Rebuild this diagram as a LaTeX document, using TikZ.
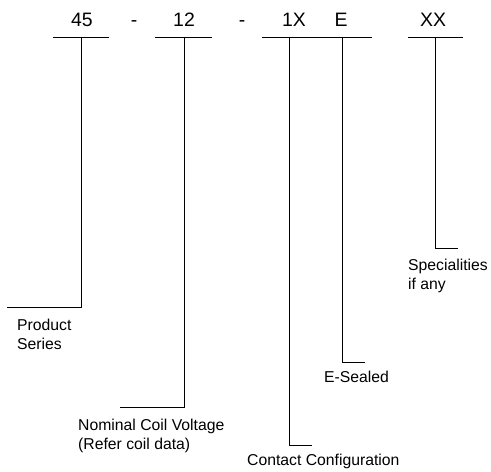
\documentclass[tikz,border=0pt]{standalone}
\usepackage{fontspec}
\setmainfont{Liberation Sans}
\begin{document}
\begin{tikzpicture}[x=1bp,y=-1bp,
  code/.style={anchor=base,inner sep=0pt,font=\fontsize{19.5}{21}\selectfont},
  lbl/.style={anchor=base west,inner sep=0pt,align=left,font=\fontsize{15.8}{18.3}\selectfont},
  ln/.style={line width=0.9bp,black}]
\useasboundingbox (0,0) rectangle (491,472);
% code characters
\node[code] (c45) at (82,27) {45};
\node[code] (d1) at (134,27) {-};
\node[code] (c12) at (184,27) {12};
\node[code] (d2) at (242,27) {-};
\node[code] (c1x) at (294,27) {1X};
\node[code] (ce) at (341,27) {E};
\node[code] (cxx) at (433,27) {XX};
% underline bars
\coordinate (b1l) at (53,37); \coordinate (b1r) at (109,37);
\coordinate (b2l) at (155,37); \coordinate (b2r) at (212,37);
\coordinate (b3l) at (262,37); \coordinate (b3r) at (372,37);
\coordinate (b5l) at (408,37); \coordinate (b5r) at (463,37);
\draw[ln] (b1l) -- (b1r);
\draw[ln] (b2l) -- (b2r);
\draw[ln] (b3l) -- (b3r);
\draw[ln] (b5l) -- (b5r);
% stem tops
\coordinate (s1) at (81,37);
\coordinate (s2) at (184,37);
\coordinate (s3) at (289,37);
\coordinate (s4) at (342,37);
\coordinate (s5) at (435,37);
% leader ends
\coordinate (e1) at (7,307);
\coordinate (e2) at (120,407);
\coordinate (e3) at (312,445);
\coordinate (e4) at (365,362);
\coordinate (e5) at (458,248);
\draw[ln] (s1) |- (e1);
\draw[ln] (s2) |- (e2);
\draw[ln] (s3) |- (e3);
\draw[ln] (s4) |- (e4);
\draw[ln] (s5) |- (e5);
% labels (base anchor = baseline of last line)
\node[lbl] (l1) at (17,349) {Product\\Series};
\node[lbl] (l2) at (78,449) {Nominal Coil Voltage\\(Refer coil data)};
\node[lbl] (l3) at (247,465) {Contact Configuration};
\node[lbl] (l4) at (324,382) {E-Sealed};
\node[lbl] (l5) at (408,289) {Specialities\\if any};
\end{tikzpicture}
\end{document}
